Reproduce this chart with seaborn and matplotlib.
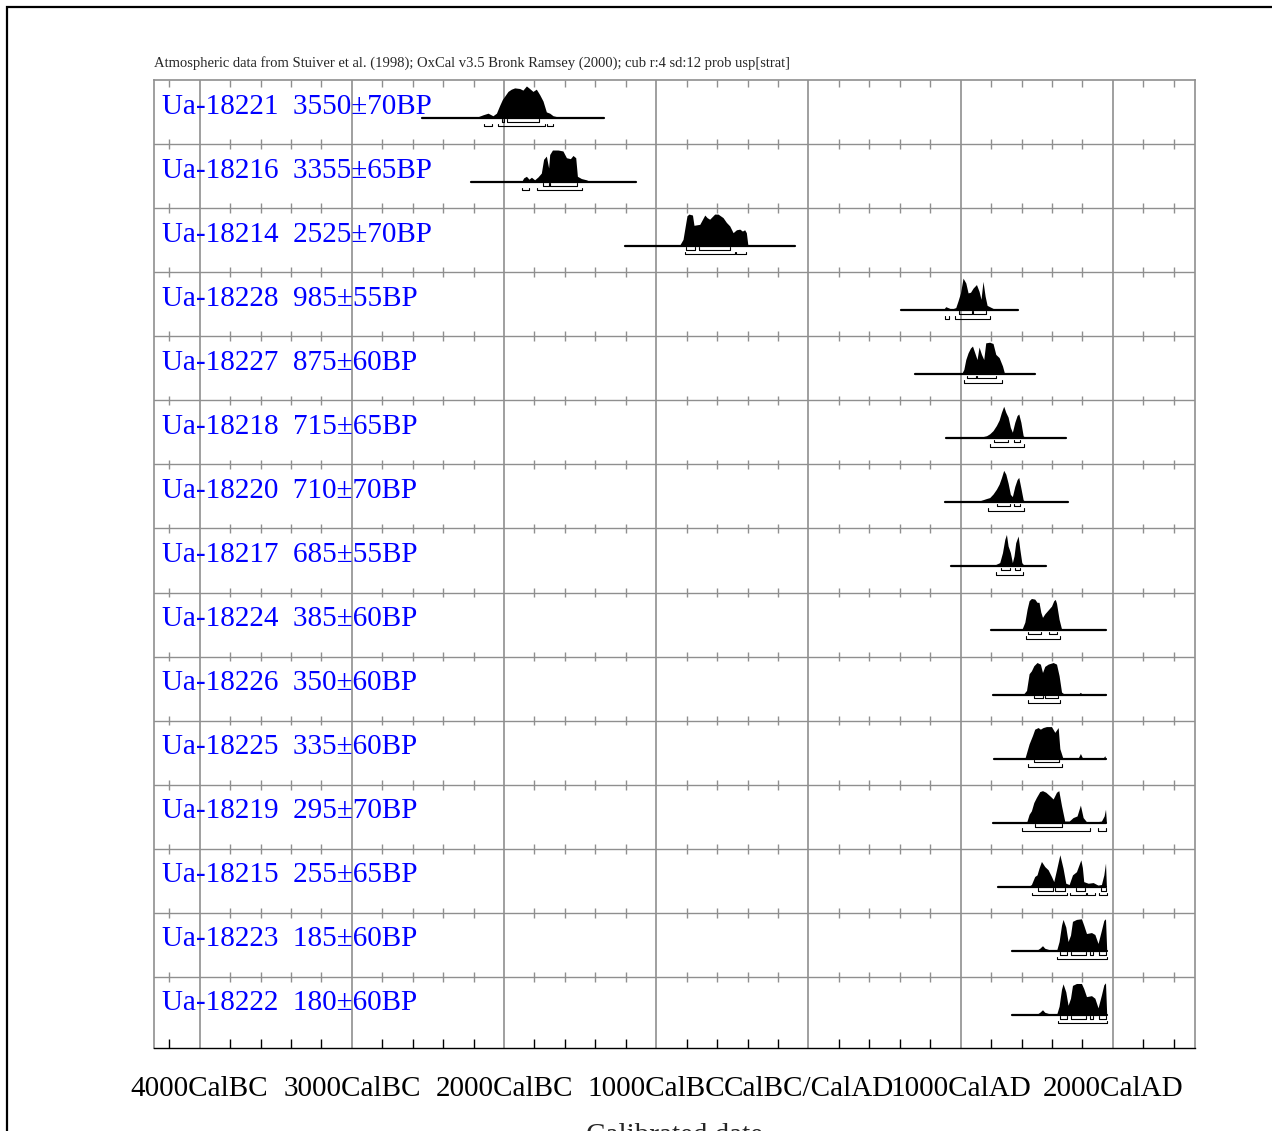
import numpy as np
import matplotlib
matplotlib.use('Agg')
import matplotlib.pyplot as plt
from matplotlib.patches import Rectangle
import seaborn as sns

# Sample labels, radiocarbon ages and errors (top to bottom)
labs = ['Ua-18221', 'Ua-18216', 'Ua-18214', 'Ua-18228', 'Ua-18227', 'Ua-18218',
        'Ua-18220', 'Ua-18217', 'Ua-18224', 'Ua-18226', 'Ua-18225', 'Ua-18219',
        'Ua-18215', 'Ua-18223', 'Ua-18222']
bp = [3550, 3355, 2525, 985, 875, 715, 710, 685, 385, 350, 335, 295, 255, 185, 180]
err = [70, 65, 70, 55, 60, 65, 70, 55, 60, 60, 60, 70, 65, 60, 60]

# calibrated probability curves (year BC<0 / AD>0, relative prob.)
x_18221 = [-2193, -2138, -2105, -2073, -2050, -2029, -2011, -1996, -1974, -1952, -1930, -1897,
           -1876, -1853, -1832, -1810, -1788, -1766, -1744, -1722, -1700, -1678, -1634, -1590]
p_18221 = [0, 10, 15, 7, 15, 39, 58, 68, 83, 90, 94, 92, 87, 100, 92, 83, 90, 73, 53, 19, 15, 7, 2, 0]
x_18216 = [-1886, -1871, -1853, -1836, -1820, -1799, -1777, -1755, -1740, -1722, -1707, -1700,
           -1682, -1645, -1613, -1590, -1564, -1547, -1529, -1518, -1492, -1459, -1426]
p_18216 = [0, 13, 18, 9, 15, 7, 16, 28, 71, 81, 44, 86, 100, 100, 97, 76, 73, 83, 76, 18, 11, 7, 0]
x_18214 = [-900, -846, -824, -798, -785, -762, -752, -714, -681, -666, -649, -616, -594, -561,
           -539, -517, -495, -473, -451, -434, -419, -408, -397]
p_18214 = [0, 3, 21, 95, 100, 97, 65, 68, 97, 89, 84, 100, 100, 89, 74, 63, 42, 51, 53, 47, 51, 42, 0]
x_18228 = [885, 902, 917, 940, 968, 983, 999, 1016, 1034, 1049, 1065, 1082, 1104, 1121, 1134,
           1147, 1161, 1174, 1203, 1235]
p_18228 = [0, 11, 8, 3, 8, 29, 54, 100, 85, 54, 56, 69, 80, 59, 34, 90, 44, 15, 8, 0]
x_18227 = [1005, 1021, 1034, 1049, 1065, 1078, 1093, 1108, 1121, 1137, 1152, 1165, 1191, 1213,
           1231, 1253, 1275, 1290]
p_18227 = [0, 15, 46, 67, 82, 88, 67, 46, 85, 62, 46, 98, 100, 96, 62, 52, 26, 0]
x_18218 = [1038, 1126, 1170, 1191, 1213, 1235, 1253, 1268, 1283, 1297, 1312, 1327, 1340, 1356,
           1371, 1382, 1396, 1411, 1429]
p_18218 = [1, 3, 8, 14, 24, 40, 57, 81, 100, 81, 66, 34, 19, 50, 71, 76, 50, 8, 0]
x_18220 = [1016, 1126, 1170, 1191, 1213, 1235, 1253, 1268, 1283, 1297, 1312, 1327, 1340, 1356,
           1371, 1382, 1396, 1411, 1429]
p_18220 = [1, 5, 12, 15, 26, 41, 57, 77, 100, 88, 60, 25, 18, 50, 71, 78, 45, 8, 0]
x_18217 = [1202, 1235, 1257, 1275, 1290, 1301, 1312, 1327, 1340, 1351, 1362, 1378, 1389, 1402, 1422]
p_18217 = [0, 7, 12, 43, 84, 100, 64, 43, 12, 33, 74, 95, 54, 12, 0]
x_18224 = [1400, 1422, 1437, 1450, 1465, 1487, 1502, 1515, 1527, 1538, 1553, 1575, 1597, 1612,
           1622, 1630, 1647, 1663, 1684]
p_18224 = [0, 26, 67, 93, 100, 98, 88, 88, 57, 41, 52, 64, 76, 93, 97, 85, 35, 5, 0]
x_18226 = [1411, 1433, 1450, 1465, 1481, 1502, 1524, 1538, 1553, 1575, 1608, 1630, 1647, 1663,
           1684, 1772, 1787, 1800, 1941, 1952, 1958]
p_18226 = [0, 13, 65, 74, 90, 100, 95, 69, 88, 95, 100, 95, 59, 8, 0, 0, 7, 0, 0, 4, 0]
x_18225 = [1422, 1450, 1472, 1487, 1509, 1524, 1542, 1564, 1597, 1619, 1641, 1652, 1673, 1772,
           1787, 1800, 1936, 1947, 1954]
p_18225 = [0, 46, 72, 92, 97, 92, 97, 100, 100, 82, 97, 31, 0, 1, 16, 3, 1, 9, 0]
x_18219 = [1433, 1450, 1465, 1481, 1498, 1520, 1538, 1560, 1586, 1608, 1630, 1645, 1663, 1684,
           1713, 1739, 1765, 1787, 1805, 1827, 1882, 1925, 1943, 1952, 1958]
p_18219 = [0, 26, 37, 63, 79, 97, 100, 95, 84, 74, 95, 100, 53, 5, 5, 16, 21, 55, 16, 3, 2, 5, 21, 42, 0]
x_18215 = [1443, 1465, 1487, 1502, 1515, 1531, 1553, 1575, 1597, 1612, 1630, 1652, 1673, 1691,
           1713, 1735, 1761, 1779, 1790, 1800, 1809, 1838, 1871, 1903, 1925, 1941, 1952, 1958]
p_18215 = [0, 7, 32, 37, 58, 79, 63, 53, 32, 16, 53, 100, 58, 11, 7, 37, 47, 70, 84, 60, 16, 11,
           13, 5, 7, 37, 74, 0]
x_18223 = [1498, 1520, 1538, 1553, 1586, 1630, 1647, 1663, 1673, 1691, 1706, 1722, 1735, 1761,
           1794, 1809, 1827, 1860, 1882, 1903, 1925, 1941, 1952, 1960]
p_18223 = [1, 8, 16, 8, 3, 0, 29, 80, 98, 74, 29, 49, 92, 98, 100, 80, 54, 57, 51, 23, 64, 95, 100, 0]
x_18222 = [1498, 1520, 1538, 1553, 1586, 1630, 1647, 1663, 1673, 1691, 1706, 1722, 1735, 1761,
           1794, 1809, 1827, 1860, 1882, 1903, 1925, 1941, 1952, 1960]
p_18222 = [1, 8, 16, 8, 3, 0, 27, 80, 97, 72, 30, 52, 92, 98, 98, 82, 57, 60, 52, 22, 62, 94, 100, 0]

# extent of the plotted baseline for each sample
line_from = [-2540, -2215, -1207, 611, 698, 902, 895, 940, 1202, 1213, 1218, 1213, 1246, 1338, 1338]
line_to = [-1345, -1135, -90, 1377, 1487, 1695, 1706, 1564, 1958, 1958, 1954, 1958, 1958, 1962, 1962]

# 68.2% and 95.4% ranges
sig1 = [[(-2011, -2000), (-1981, -1770)],
        [(-1744, -1707), (-1700, -1521)],
        [(-802, -747), (-719, -517)],
        [(990, 1078), (1082, 1165)],
        [(1042, 1104), (1108, 1231)],
        [(1220, 1312), (1351, 1393)],
        [(1241, 1322), (1351, 1389)],
        [(1268, 1322), (1356, 1389)],
        [(1443, 1531), (1581, 1634)],
        [(1481, 1538), (1553, 1641)],
        [(1481, 1645)],
        [(1487, 1663)],
        [(1509, 1604), (1619, 1684), (1761, 1816), (1925, 1954)],
        [(1652, 1700), (1722, 1822), (1849, 1871), (1910, 1954)],
        [(1652, 1700), (1722, 1822), (1849, 1871), (1910, 1954)]]
sig2 = [[(-2132, -2079), (-2040, -1728), (-1718, -1678)],
        [(-1880, -1838), (-1781, -1488)],
        [(-808, -480), (-473, -408)],
        [(900, 922), (961, 1191)],
        [(1021, 1275)],
        [(1191, 1415)],
        [(1180, 1415)],
        [(1235, 1411)],
        [(1428, 1652)],
        [(1443, 1652)],
        [(1443, 1663)],
        [(1400, 1853), (1903, 1954)],
        [(1472, 1700), (1717, 1822), (1831, 1882), (1910, 1962)],
        [(1634, 1962)],
        [(1640, 1962)]]

dist_x = [x_18221, x_18216, x_18214, x_18228, x_18227, x_18218, x_18220, x_18217,
          x_18224, x_18226, x_18225, x_18219, x_18215, x_18223, x_18222]
dist_p = [p_18221, p_18216, p_18214, p_18228, p_18227, p_18218, p_18220, p_18217,
          p_18224, p_18226, p_18225, p_18219, p_18215, p_18223, p_18222]

tick_years = [-4000, -3000, -2000, -1000, 0, 1000, 2000]
tick_labels = ['4000CalBC', '3000CalBC', '2000CalBC', '1000CalBC', 'CalBC/CalAD', '1000CalAD', '2000CalAD']

sns.set_theme(style='white')
plt.rcParams['font.family'] = ['Liberation Serif', 'DejaVu Serif']

grid_col = '#8f8f8f'
n = len(labs)

fig = plt.figure(figsize=(12.72, 11.31), dpi=100)
ax = fig.add_axes([154 / 1272, 1 - 1048 / 1131, (1195 - 154) / 1272, (1048 - 80) / 1131])
ax.set_xlim(-4300, 2540)
ax.set_ylim(-0.11, n)

# rows
for i in range(n):
    base = n - 1 - i + 0.407
    h = np.array(dist_p[i]) / max(dist_p[i]) * 0.5
    ax.fill_between(dist_x[i], base, base + h, color='black', lw=0, zorder=3)
    sns.lineplot(x=[line_from[i], line_to[i]], y=[base, base], color='black', lw=1.6, ax=ax,
                 zorder=4, legend=False)
    for lev, ranges in [(0.06, sig1[i]), (0.13, sig2[i])]:
        for a, b in ranges:
            ax.plot([a, a, b, b], [base - lev + 0.04, base - lev, base - lev, base - lev + 0.04],
                    color='black', lw=0.8, zorder=4)
    ax.text(-4250, n - 1 - i + 0.585, '%s  %d\u00b1%dBP' % (labs[i], bp[i], err[i]),
            color='#0000ff', fontsize=21, va='center', ha='left', zorder=5)

# row separators with small ticks
minor = [y for y in range(-4200, 2540, 200) if y % 1000 != 0]
for b in range(1, n):
    ax.axhline(b, color=grid_col, lw=1, zorder=1)
    ax.vlines(minor, b - 0.075, b + 0.075, color=grid_col, lw=1, zorder=1)
ax.vlines(minor, n - 0.11, n, color=grid_col, lw=1, zorder=1)

ax.set_xticks(tick_years)
ax.set_xticklabels(tick_labels, fontsize=21)
ax.set_xticks(minor, minor=True)
ax.set_yticks([])
ax.tick_params(axis='x', which='major', direction='in', length=0, pad=20, colors='black')
ax.tick_params(axis='x', which='minor', direction='in', length=6.5, width=1, color='black', bottom=True)
ax.xaxis.grid(True, which='major', color=grid_col, lw=1.2)
ax.set_axisbelow(True)
for s in ['top', 'left', 'right']:
    ax.spines[s].set_color(grid_col)
    ax.spines[s].set_linewidth(1.2)
ax.spines['bottom'].set_color('black')
ax.spines['bottom'].set_linewidth(1)

fig.text(154 / 1272, 1 - 63 / 1131,
         'Atmospheric data from Stuiver et al. (1998); OxCal v3.5 Bronk Ramsey (2000); cub r:4 sd:12 prob usp[strat]',
         fontsize=10.5, ha='left', va='center')
fig.text(674 / 1272, 1 - 1123 / 1131, 'Calibrated date', fontsize=21, ha='center', va='top')

fig.add_artist(Rectangle((6.5 / 1272, -0.5), 2, 1.5 - 6.5 / 1131, transform=fig.transFigure,
                         fill=False, ec='black', lw=1.6, clip_on=False))

fig.savefig('out.png', dpi=100)
